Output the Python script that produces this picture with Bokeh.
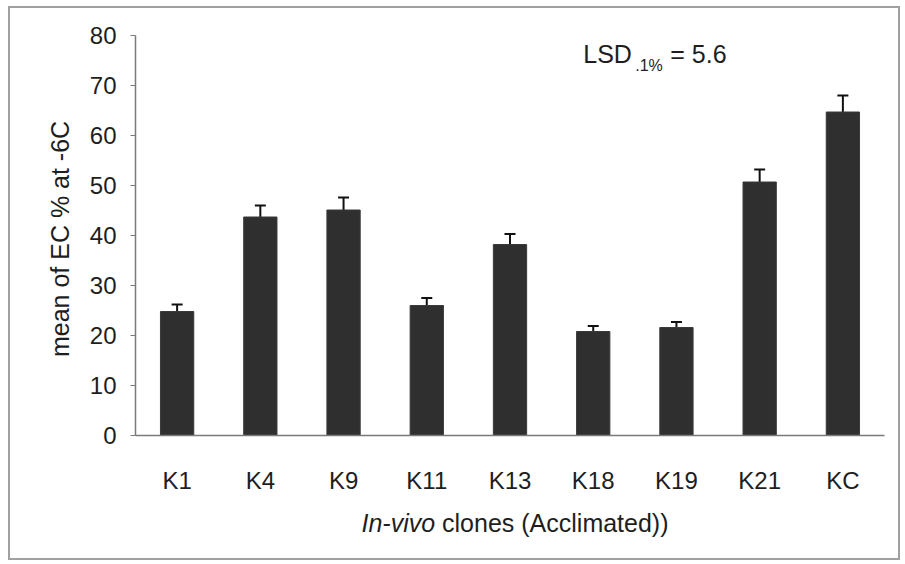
from bokeh.plotting import figure
from bokeh.layouts import column
from bokeh.models import ColumnDataSource, Whisker, TeeHead, Label, FixedTicker, Div
from bokeh.embed import file_html
from bokeh.resources import INLINE

# Electrolyte conductivity (EC %) at -6C for acclimated in-vivo clones
clones = ["K1", "K4", "K9", "K11", "K13", "K18", "K19", "K21", "KC"]
ec_mean = [24.8, 43.7, 45.1, 26.0, 38.2, 20.8, 21.6, 50.7, 64.7]
ec_err = [1.4, 2.3, 2.5, 1.5, 2.1, 1.1, 1.1, 2.5, 3.3]
y_ticks = [0, 10, 20, 30, 40, 50, 60, 70, 80]
lsd_value = 5.6

FONT = "Liberation Sans"
TXT = "#1e1e1e"

src = ColumnDataSource(dict(
    clone=clones,
    mean=ec_mean,
    upper=[m + e for m, e in zip(ec_mean, ec_err)],
    lower=[m - e for m, e in zip(ec_mean, ec_err)],
))

p = figure(
    x_range=clones, y_range=(0, 80),
    width=888, height=497,
    min_border_left=125, min_border_right=14,
    min_border_top=27, min_border_bottom=70,
    output_backend="svg", toolbar_location=None,
    background_fill_color=None, border_fill_color=None,
)
p.outline_line_color = None
p.grid.grid_line_color = None
p.x_range.range_padding = 0

p.vbar(x="clone", top="mean", width=0.4, source=src,
       fill_color="#2f2f2f", line_color="#3a3a3a", line_width=1)

err = Whisker(
    base="clone", upper="upper", lower="lower", source=src,
    line_color="#111111", line_width=2,
    upper_head=TeeHead(size=11, line_color="#111111", line_width=2),
    lower_head=TeeHead(size=11, line_color="#111111", line_width=2),
)
p.add_layout(err)

# y axis
p.yaxis.ticker = FixedTicker(ticks=y_ticks)
p.yaxis.axis_line_color = "#7a7a7a"
p.yaxis.axis_line_width = 1.5
p.yaxis.major_tick_line_color = "#7a7a7a"
p.yaxis.major_tick_out = 5
p.yaxis.major_tick_in = 0
p.yaxis.minor_tick_line_color = None
p.yaxis.major_label_standoff = 14
p.yaxis.major_label_text_font = FONT
p.yaxis.major_label_text_font_size = "24px"
p.yaxis.major_label_text_color = TXT
p.yaxis.axis_label = "mean of EC %  at -6C"
p.yaxis.axis_label_text_font = FONT
p.yaxis.axis_label_text_font_style = "normal"
p.yaxis.axis_label_text_font_size = "25px"
p.yaxis.axis_label_text_color = TXT
p.yaxis.axis_label_standoff = 13

# x axis
p.xaxis.axis_line_color = "#7a7a7a"
p.xaxis.axis_line_width = 1.5
p.xaxis.major_tick_line_color = None
p.xaxis.minor_tick_line_color = None
p.xaxis.major_label_standoff = 25
p.xaxis.major_label_text_font = FONT
p.xaxis.major_label_text_font_size = "24px"
p.xaxis.major_label_text_color = TXT

# LSD annotation with subscript
p.add_layout(Label(x=5.38, y=76.4, text="LSD", text_font=FONT, text_font_size="25px",
                   text_color=TXT, text_baseline="alphabetic"))
p.add_layout(Label(x=5.38, y=74.0, x_offset=52, text=".1%", text_font=FONT,
                   text_font_size="16px", text_color=TXT, text_baseline="alphabetic"))
p.add_layout(Label(x=5.38, y=76.4, x_offset=87, text=f"= {lsd_value}", text_font=FONT,
                   text_font_size="25px", text_color=TXT, text_baseline="alphabetic"))

# x axis title, with the italic "In-vivo"
x_title = Div(
    text=('<div style="box-sizing:border-box;font-family:\'Liberation Sans\';font-size:25px;'
          'color:#1e1e1e;line-height:25px;padding-top:1px;padding-left:112px;'
          'text-align:center;width:888px;">'
          '<i>In-vivo</i> clones (Acclimated))</div>'),
    width=888, height=53,
    styles={"background-color": "transparent"},
)

# white panel with a light grey frame around the chart
root = column(p, x_title, spacing=0, width=892, height=554,
              styles={"border": "2px solid #a0a0a0", "background-color": "white",
                      "box-sizing": "border-box"},
              margin=(6, 0, 0, 8))

open("out.html", "w").write(file_html(root, INLINE))
